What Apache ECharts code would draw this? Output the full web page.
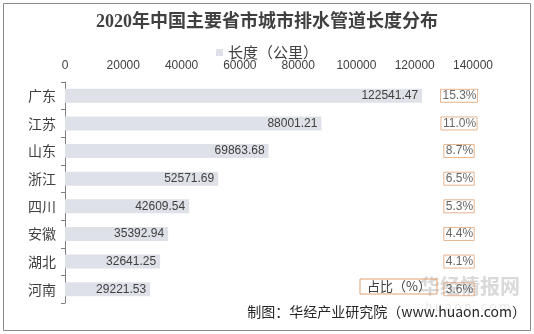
<!DOCTYPE html>
<html><head><meta charset="utf-8">
<script src="https://cdn.jsdelivr.net/npm/echarts@6/dist/echarts.min.js"></script>
<style>html,body{margin:0;padding:0;background:#fff}#c{width:534px;height:334px}</style>
</head><body><div id="c"></div>
<script>
const categories = ['广东','江苏','山东','浙江','四川','安徽','湖北','河南'];
const lengthKm = [122541.47, 88001.21, 69863.68, 52571.69, 42609.54, 35392.94, 32641.25, 29221.53];
const sharePct = ['15.3','11.0','8.7','6.5','5.3','4.4','4.1','3.6'];
const xTicks = [0, 20000, 40000, 60000, 80000, 100000, 120000, 140000];
const PCT_X = 135200;
const font = '"Noto Sans CJK SC", "Liberation Sans", sans-serif';
const numFont = '"Liberation Sans", "Noto Sans CJK SC", sans-serif';

const chart = echarts.init(document.getElementById('c'), null, {renderer: 'canvas'});
chart.setOption({
  animation: false,
  backgroundColor: '#fff',
  title: {
    text: '2020年中国主要省市城市排水管道长度分布',
    left: 'center', top: 8,
    textStyle: {fontFamily: '"Liberation Serif", "Noto Sans CJK SC", serif', fontSize: 18, fontWeight: 'bold', color: '#404040'}
  },
  legend: [{
    data: ['长度（公里）'],
    top: 40, left: 'center',
    itemWidth: 7, itemHeight: 7, itemGap: 4, icon: 'rect',
    textStyle: {fontFamily: font, fontSize: 15, color: '#404040'}
  }, {
    data: ['占比（%）'],
    left: 360, top: 279,
    itemWidth: 0, itemHeight: 0, itemGap: 0, icon: 'none',
    padding: [1, 6, 1, 2],
    borderColor: '#e0a070', borderWidth: 1,
    textStyle: {fontFamily: font, fontSize: 13, color: '#404040'}
  }],
  grid: {left: 65, right: 61, top: 82, bottom: 31, containLabel: false},
  xAxis: {
    type: 'value', position: 'top', min: xTicks[0], max: xTicks[xTicks.length - 1], interval: 20000,
    axisLine: {show: false}, axisTick: {show: false}, splitLine: {show: false},
    axisLabel: {fontFamily: numFont, fontSize: 12, color: '#404040', margin: 10, formatter: v => String(v)}
  },
  yAxis: {
    type: 'category', data: categories, inverse: true,
    axisLine: {show: true, lineStyle: {color: '#7f7f7f', width: 1}},
    axisTick: {show: true, length: 4, lineStyle: {color: '#7f7f7f'}},
    axisLabel: {fontFamily: font, fontSize: 14, color: '#404040', margin: 9}
  },
  series: [{
    name: '长度（公里）', type: 'bar', data: lengthKm, barWidth: 14,
    itemStyle: {color: '#dfe1e8'},
    label: {show: true, position: 'insideRight', distance: 4, fontFamily: numFont, fontSize: 12, color: '#404040',
      formatter: p => p.value.toFixed(2)}
  }, {
    name: '占比（%）', type: 'scatter', symbolSize: 0,
    itemStyle: {color: 'rgba(0,0,0,0)'},
    data: sharePct.map((v, i) => [PCT_X, categories[i]]),
    label: {show: true, position: 'inside', fontFamily: numFont, fontSize: 12, color: '#404040',
      borderColor: '#e0a070', borderWidth: 1, padding: [1, 1, 0, 2],
      formatter: p => sharePct[p.dataIndex] + '%'}
  }],
  graphic: [
    {type: 'rect', shape: {x: 3.5, y: 3.5, width: 527, height: 327}, style: {fill: 'none', stroke: '#8a8a8a', lineWidth: 1}, silent: true},
    {type: 'text', left: 420, top: 276, z: 1, style: {text: '华经情报网', fontFamily: font, fontSize: 20, fontWeight: 'bold', fill: 'rgba(170,170,170,0.45)'}},
    {type: 'text', left: 425, top: 300, z: 1, style: {text: 'h u a o n . c o m', fontFamily: font, fontSize: 12, fill: 'rgba(190,190,190,0.35)'}},
    {type: 'text', right: 8, top: 305, z: 10, style: {text: '制图：华经产业研究院（www.huaon.com）', fontFamily: font, fontSize: 14, fill: '#262626'}}
  ]
});
</script></body></html>
